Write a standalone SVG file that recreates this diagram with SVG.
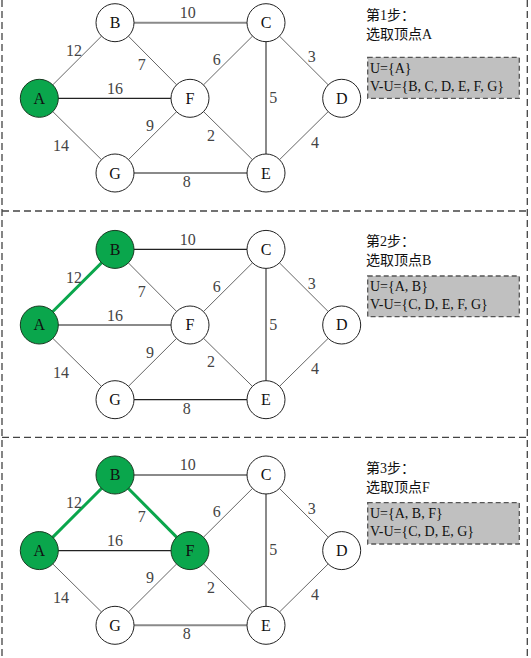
<svg xmlns="http://www.w3.org/2000/svg" width="531" height="658" viewBox="0 0 531 658">
<style>
.bd{stroke:#444;stroke-width:1.3;stroke-dasharray:7 4;fill:none}
.e{stroke:#666;stroke-width:1}
.eh{stroke:#8a8a8a;stroke-width:2}
.ek{stroke:#222;stroke-width:1.3}
.eg{stroke:#0aa64c;stroke-width:3}
.n{fill:#fff;stroke:#222;stroke-width:1}
.ng{fill:#0aa64c;stroke:#1a3a22;stroke-width:1}
.nl{font-family:"Liberation Serif",serif;font-size:16px;fill:#111;text-anchor:middle}
.wl{font-family:"Liberation Serif",serif;font-size:16px;fill:#444;text-anchor:middle}
.tt{font-family:"Liberation Serif","Noto Sans CJK SC",sans-serif;font-size:14px;fill:#111}
.box{fill:#c0c0c0;stroke:#555;stroke-width:1.3;stroke-dasharray:5 3}
.bt{font-family:"Liberation Serif",serif;font-size:14px;fill:#111}
</style>
<g id="borders">
<line class="bd" x1="2" y1="0" x2="2" y2="658"/>
<line class="bd" x1="527.3" y1="0" x2="527.3" y2="658"/>
<line class="bd" x1="2" y1="211" x2="527.3" y2="211"/>
<line class="bd" x1="2" y1="437.3" x2="527.3" y2="437.3"/>
</g>

<!-- Panel 1 -->
<g id="panel1">
<g id="p1-connectors">
<line class="e" x1="39.3" y1="98.3" x2="115" y2="22.7"/>
<line class="ek" x1="39.3" y1="98.3" x2="190" y2="98.3"/>
<line class="e" x1="39.3" y1="98.3" x2="115" y2="173"/>
<line class="eh" x1="115" y1="22.7" x2="266" y2="22.7"/>
<line class="e" x1="115" y1="22.7" x2="190" y2="98.3"/>
<line class="e" x1="190" y1="98.3" x2="266" y2="22.7"/>
<line class="eh" x1="266" y1="22.7" x2="266" y2="173"/>
<line class="e" x1="266" y1="22.7" x2="341.7" y2="98.3"/>
<line class="e" x1="341.7" y1="98.3" x2="266" y2="173"/>
<line class="e" x1="190" y1="98.3" x2="266" y2="173"/>
<line class="eh" x1="115" y1="173" x2="266" y2="173"/>
<line class="e" x1="190" y1="98.3" x2="115" y2="173"/>
<text class="wl" x="187.7" y="18">10</text>
<text class="wl" x="74" y="56">12</text>
<text class="wl" x="141.7" y="70">7</text>
<text class="wl" x="115" y="94">16</text>
<text class="wl" x="216.7" y="65">6</text>
<text class="wl" x="150" y="131">9</text>
<text class="wl" x="211" y="140.7">2</text>
<text class="wl" x="61" y="151">14</text>
<text class="wl" x="186.7" y="187">8</text>
<text class="wl" x="311.7" y="62">3</text>
<text class="wl" x="273.3" y="103">5</text>
<text class="wl" x="315" y="147.7">4</text>
</g>
<g id="p1-A"><circle class="ng" cx="39.3" cy="98.3" r="19"/><text class="nl" x="39.3" y="103.8">A</text></g>
<g id="p1-B"><circle class="n" cx="115" cy="22.7" r="19"/><text class="nl" x="115" y="28.2">B</text></g>
<g id="p1-C"><circle class="n" cx="266" cy="22.7" r="19"/><text class="nl" x="266" y="28.2">C</text></g>
<g id="p1-D"><circle class="n" cx="341.7" cy="98.3" r="19"/><text class="nl" x="341.7" y="103.8">D</text></g>
<g id="p1-E"><circle class="n" cx="266" cy="173" r="19"/><text class="nl" x="266" y="178.5">E</text></g>
<g id="p1-F"><circle class="n" cx="190" cy="98.3" r="19"/><text class="nl" x="190" y="103.8">F</text></g>
<g id="p1-G"><circle class="n" cx="115" cy="173" r="19"/><text class="nl" x="115" y="178.5">G</text></g>
<g id="p1-info">
<text class="tt" x="366" y="20">第1步：</text>
<text class="tt" x="366" y="39">选取顶点A</text>
<rect class="box" x="367.7" y="57.3" width="151.6" height="41"/>
<text class="bt" x="370" y="73">U={A}</text>
<text class="bt" x="370" y="91">V-U={B, C, D, E, F, G}</text>
</g>
</g>

<!-- Panel 2 -->
<g id="panel2">
<g id="p2-connectors" transform="translate(0,226.7)">
<line class="eg" x1="39.3" y1="98.3" x2="115" y2="22.7"/>
<line class="eh" x1="39.3" y1="98.3" x2="190" y2="98.3"/>
<line class="e" x1="39.3" y1="98.3" x2="115" y2="173"/>
<line class="ek" x1="115" y1="22.7" x2="266" y2="22.7"/>
<line class="e" x1="115" y1="22.7" x2="190" y2="98.3"/>
<line class="e" x1="190" y1="98.3" x2="266" y2="22.7"/>
<line class="eh" x1="266" y1="22.7" x2="266" y2="173"/>
<line class="e" x1="266" y1="22.7" x2="341.7" y2="98.3"/>
<line class="e" x1="341.7" y1="98.3" x2="266" y2="173"/>
<line class="e" x1="190" y1="98.3" x2="266" y2="173"/>
<line class="ek" x1="115" y1="173" x2="266" y2="173"/>
<line class="e" x1="190" y1="98.3" x2="115" y2="173"/>
<text class="wl" x="187.7" y="18">10</text>
<text class="wl" x="74" y="56">12</text>
<text class="wl" x="141.7" y="70">7</text>
<text class="wl" x="115" y="94">16</text>
<text class="wl" x="216.7" y="65">6</text>
<text class="wl" x="150" y="131">9</text>
<text class="wl" x="211" y="140.7">2</text>
<text class="wl" x="61" y="151">14</text>
<text class="wl" x="186.7" y="187">8</text>
<text class="wl" x="311.7" y="62">3</text>
<text class="wl" x="273.3" y="103">5</text>
<text class="wl" x="315" y="147.7">4</text>
</g>
<g transform="translate(0,226.7)">
<g id="p2-A"><circle class="ng" cx="39.3" cy="98.3" r="19"/><text class="nl" x="39.3" y="103.8">A</text></g>
<g id="p2-B"><circle class="ng" cx="115" cy="22.7" r="19"/><text class="nl" x="115" y="28.2">B</text></g>
<g id="p2-C"><circle class="n" cx="266" cy="22.7" r="19"/><text class="nl" x="266" y="28.2">C</text></g>
<g id="p2-D"><circle class="n" cx="341.7" cy="98.3" r="19"/><text class="nl" x="341.7" y="103.8">D</text></g>
<g id="p2-E"><circle class="n" cx="266" cy="173" r="19"/><text class="nl" x="266" y="178.5">E</text></g>
<g id="p2-F"><circle class="n" cx="190" cy="98.3" r="19"/><text class="nl" x="190" y="103.8">F</text></g>
<g id="p2-G"><circle class="n" cx="115" cy="173" r="19"/><text class="nl" x="115" y="178.5">G</text></g>
</g>
<g id="p2-info">
<text class="tt" x="366" y="246">第2步：</text>
<text class="tt" x="366" y="265">选取顶点B</text>
<rect class="box" x="367.7" y="276" width="151.6" height="40.7"/>
<text class="bt" x="370" y="290.5">U={A, B}</text>
<text class="bt" x="370" y="308.5">V-U={C, D, E, F, G}</text>
</g>
</g>

<!-- Panel 3 -->
<g id="panel3">
<g id="p3-connectors" transform="translate(0,452.3)">
<line class="eg" x1="39.3" y1="98.3" x2="115" y2="22.7"/>
<line class="ek" x1="39.3" y1="98.3" x2="190" y2="98.3"/>
<line class="e" x1="39.3" y1="98.3" x2="115" y2="173"/>
<line class="eh" x1="115" y1="22.7" x2="266" y2="22.7"/>
<line class="eg" x1="115" y1="22.7" x2="190" y2="98.3"/>
<line class="e" x1="190" y1="98.3" x2="266" y2="22.7"/>
<line class="eh" x1="266" y1="22.7" x2="266" y2="173"/>
<line class="e" x1="266" y1="22.7" x2="341.7" y2="98.3"/>
<line class="e" x1="341.7" y1="98.3" x2="266" y2="173"/>
<line class="e" x1="190" y1="98.3" x2="266" y2="173"/>
<line class="eh" x1="115" y1="173" x2="266" y2="173"/>
<line class="e" x1="190" y1="98.3" x2="115" y2="173"/>
<text class="wl" x="187.7" y="18">10</text>
<text class="wl" x="74" y="56">12</text>
<text class="wl" x="141.7" y="70">7</text>
<text class="wl" x="115" y="94">16</text>
<text class="wl" x="216.7" y="65">6</text>
<text class="wl" x="150" y="131">9</text>
<text class="wl" x="211" y="140.7">2</text>
<text class="wl" x="61" y="151">14</text>
<text class="wl" x="186.7" y="187">8</text>
<text class="wl" x="311.7" y="62">3</text>
<text class="wl" x="273.3" y="103">5</text>
<text class="wl" x="315" y="147.7">4</text>
</g>
<g transform="translate(0,452.3)">
<g id="p3-A"><circle class="ng" cx="39.3" cy="98.3" r="19"/><text class="nl" x="39.3" y="103.8">A</text></g>
<g id="p3-B"><circle class="ng" cx="115" cy="22.7" r="19"/><text class="nl" x="115" y="28.2">B</text></g>
<g id="p3-C"><circle class="n" cx="266" cy="22.7" r="19"/><text class="nl" x="266" y="28.2">C</text></g>
<g id="p3-D"><circle class="n" cx="341.7" cy="98.3" r="19"/><text class="nl" x="341.7" y="103.8">D</text></g>
<g id="p3-E"><circle class="n" cx="266" cy="173" r="19"/><text class="nl" x="266" y="178.5">E</text></g>
<g id="p3-F"><circle class="ng" cx="190" cy="98.3" r="19"/><text class="nl" x="190" y="103.8">F</text></g>
<g id="p3-G"><circle class="n" cx="115" cy="173" r="19"/><text class="nl" x="115" y="178.5">G</text></g>
</g>
<g id="p3-info">
<text class="tt" x="366" y="473">第3步：</text>
<text class="tt" x="366" y="492">选取顶点F</text>
<rect class="box" x="367.7" y="502.7" width="151.6" height="41.3"/>
<text class="bt" x="370" y="518">U={A, B, F}</text>
<text class="bt" x="370" y="536">V-U={C, D, E, G}</text>
</g>
</g>
</svg>
